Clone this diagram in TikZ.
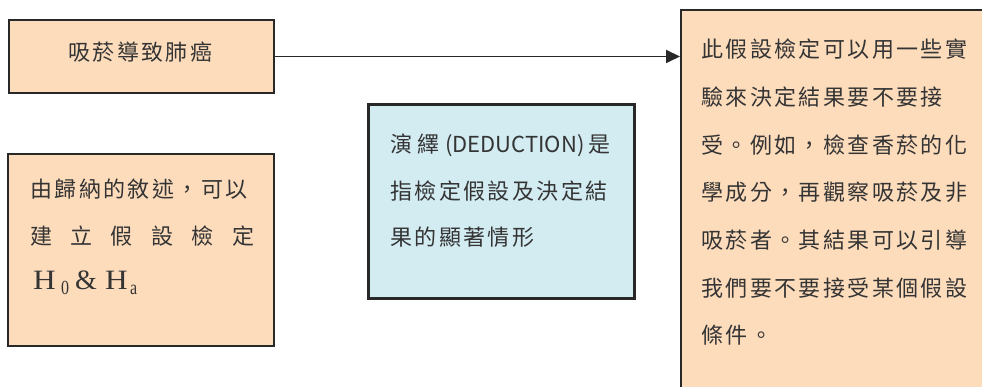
\documentclass[tikz,border=0pt]{standalone}
\usepackage{fontspec}
\usetikzlibrary{arrows.meta}
\newfontfamily\cjk[LetterSpace=11]{Noto Sans CJK TC}
\newfontfamily\cjkplain{Noto Sans CJK TC}
\newfontfamily\tms{Liberation Serif}
\definecolor{peach}{RGB}{253,220,188}
\definecolor{paleblue}{RGB}{211,236,242}
\definecolor{edge}{RGB}{40,40,40}
\definecolor{ink}{RGB}{52,52,52}
\tikzset{
  box/.style={draw=edge, line width=2pt, fill=#1, inner sep=0pt},
  txt/.style={anchor=base west, inner sep=0pt, text=ink, font=\fontsize{22}{22}\selectfont\cjk},
  conn/.style={draw=edge, line width=1.8pt, -{Triangle[length=14pt,width=13pt]}}
}
\newcommand{\subsc}[1]{\raisebox{-5pt}{\fontsize{20}{20}\selectfont\scalebox{0.8}[1]{#1}}}
\begin{document}
\begin{tikzpicture}[x=1pt,y=-1pt]
\useasboundingbox (0,0) rectangle (982,387);
\clip (0,0) rectangle (982,387);
% boxes
\node[box=peach, minimum width=265pt, minimum height=73pt, anchor=north west] (b1) at (8,19) {};
\node[box=peach, minimum width=266pt, minimum height=192pt, anchor=north west] (b2) at (7,153) {};
\node[box=paleblue, line width=2.6pt, minimum width=266pt, minimum height=194pt, anchor=north west] (b3) at (367,103) {};
\node[box=peach, minimum width=330pt, minimum height=400pt, anchor=north west] (b4) at (680,9) {};
% box 1 text
\node[txt] (t1) at (68,61) {吸菸導致肺癌};
% box 2 text
\node[txt] (t2a) at (30,198) {由歸納的敘述，可以};
\node[txt] (t2b) at (30,245) {\makebox[224pt][s]{建\hfill 立\hfill 假\hfill 設\hfill 檢\hfill 定}};
\node[anchor=base west, inner sep=0pt, text=ink] (t2c) at (33,290) {\tms\fontsize{28}{28}\selectfont
  \makebox[28pt][l]{\scalebox{1.12}[1]{H}}\makebox[14pt][l]{\subsc{0}}\makebox[30pt][l]{\&}\makebox[25pt][l]{\scalebox{1.12}[1]{H}}\subsc{a}};
% box 3 text
\node[anchor=base west, inner sep=0pt, text=ink, font=\fontsize{22}{22}\selectfont\cjkplain] (t3a) at (390,153) {演\hspace{5pt}繹\hspace{6pt}(DEDUCTION)\hspace{4pt}是};
\node[txt] (t3b) at (390,200) {指檢定假設及決定結};
\node[txt] (t3c) at (390,246) {果的顯著情形};
% box 4 text
\foreach \t [count=\i] in {此假設檢定可以用一些實,驗來決定結果要不要接,受。例如，檢查香菸的化,學成分，再觀察吸菸及非,吸菸者。其結果可以引導,我們要不要接受某個假設,條件。}
  \node[txt] (t4-\i) at (701,{58+47.6*(\i-1)}) {\t};
% connector
\draw[conn] (b1.east) -- (b1.east -| b4.west);
\end{tikzpicture}
\end{document}
